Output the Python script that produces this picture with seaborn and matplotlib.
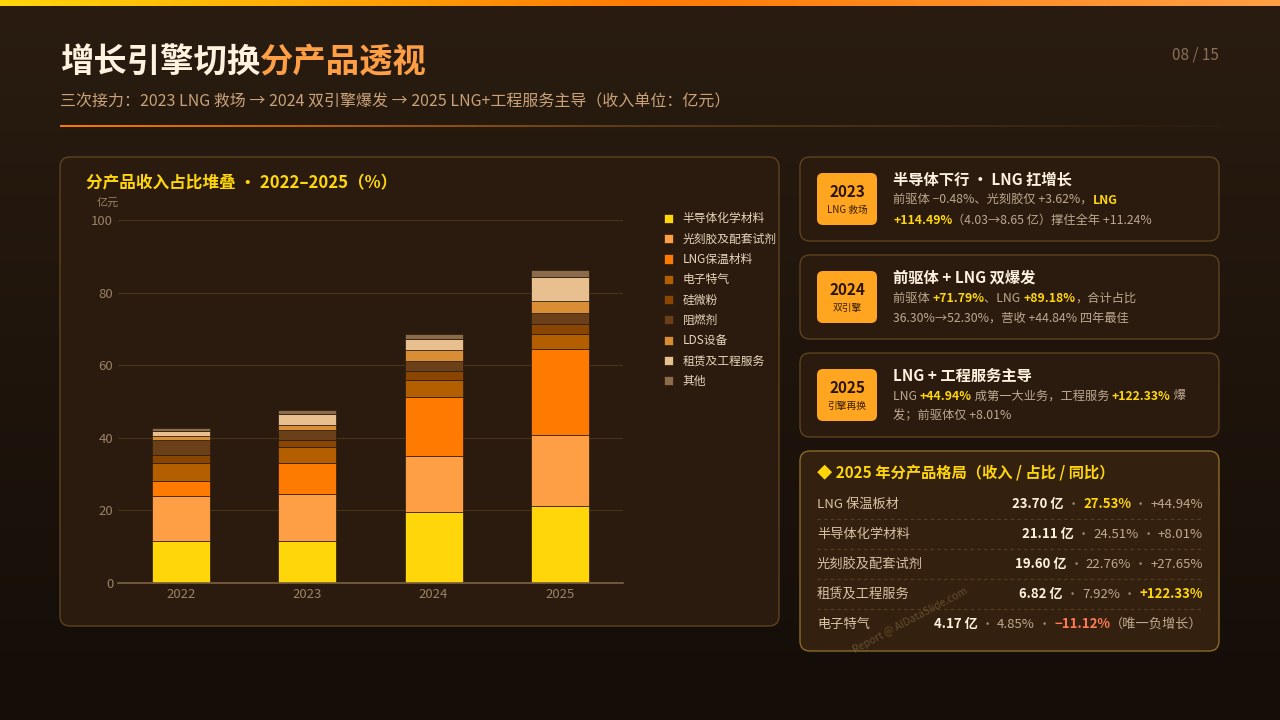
import numpy as np
import pandas as pd
import seaborn as sns
import matplotlib.pyplot as plt
from matplotlib.patches import FancyBboxPatch

years = ['2022', '2023', '2024', '2025']
products = ['半导体化学材料', '光刻胶及配套试剂', 'LNG保温材料', '电子特气', '硅微粉',
            '阻燃剂', 'LDS设备', '租赁及工程服务', '其他']
semi = [11.5, 11.5, 19.6, 21.11]
photo = [12.6, 13.0, 15.4, 19.60]
lng = [4.03, 8.65, 16.3, 23.70]
gas = [4.8, 4.4, 4.7, 4.17]
silica = [2.3, 1.9, 2.3, 2.9]
flame = [4.1, 2.7, 2.8, 2.9]
lds = [1.1, 1.4, 3.1, 3.2]
lease = [1.5, 3.1, 3.0, 6.82]
other = [0.7, 1.0, 1.5, 1.9]
colors = ['#FFD60A', '#FF9F45', '#FF7A00', '#B35F00', '#8A4500',
          '#6B3F17', '#D98E36', '#E8C090', '#8B6B4A']

sns.set_theme(style='dark')
plt.rcParams['font.family'] = ['Noto Sans CJK SC', 'DejaVu Sans']

W, H = 1280, 720
fig = plt.figure(figsize=(12.8, 7.2), dpi=100)
fig.patch.set_facecolor('#1E140C')
bg = fig.add_axes([0, 0, 1, 1])
bg.axis('off')
cm = plt.matplotlib.colors.LinearSegmentedColormap.from_list
grad = np.linspace(0, 1, 256).reshape(1, -1)
bg.imshow(np.linspace(0, 1, 256).reshape(-1, 1), extent=[0, W, H, 0], aspect='auto',
          cmap=cm('b', ['#2A1C10', '#140D08']), zorder=0)
bg.imshow(grad, extent=[0, W, 6, 0], aspect='auto',
          cmap=cm('t', ['#FFD60A', '#FF7A00', '#FF9F45']), zorder=1)
bg.imshow(grad, extent=[60, 1219, 127, 125], aspect='auto',
          cmap=cm('l', ['#FF7A00', '#5A3A18', '#2A1C10']), zorder=1)
bg.set_xlim(0, W)
bg.set_ylim(H, 0)

renderer = fig.canvas.get_renderer()


def rich(x, y, parts, size, ha='left'):
    # parts: list of (text, color, bold)
    seq = parts if ha == 'left' else parts[::-1]
    for txt, col, bold in seq:
        t = bg.text(x, y, txt, color=col, fontsize=size, fontweight='bold' if bold else 'normal',
                    ha=ha, va='center', zorder=5)
        bb = t.get_window_extent(renderer=renderer)
        x = x + bb.width if ha == 'left' else x - bb.width


def panel(x0, y0, x1, y1, fc='#2A1B0E', ec='#5E4220'):
    bg.add_patch(FancyBboxPatch((x0, y0), x1 - x0, y1 - y0, boxstyle='round,pad=0,rounding_size=10',
                                fc=fc, ec=ec, lw=1, zorder=2))


rich(60, 63, [('增长引擎切换', '#FFF3E0', True), ('分产品透视', '#FF9F45', True)], 24)
bg.text(60, 102, '三次接力：2023 LNG 救场 → 2024 双引擎爆发 → 2025 LNG+工程服务主导（收入单位：亿元）',
        color='#C9A27A', fontsize=11.5, va='center')
bg.text(1219, 55, '08 / 15', color='#8A7058', fontsize=11, ha='right', va='center')

# chart panel
panel(60, 157, 779, 626)
bg.text(86, 183, '分产品收入占比堆叠 · 2022–2025（%）', color='#FFD60A', fontsize=12,
        fontweight='bold', va='center')

ax = fig.add_axes([118 / W, 1 - 583 / H, (623 - 118) / W, (583 - 220) / H])
df = pd.DataFrame({'year': years, '半导体化学材料': semi, '光刻胶及配套试剂': photo, 'LNG保温材料': lng,
                   '电子特气': gas, '硅微粉': silica, '阻燃剂': flame, 'LDS设备': lds,
                   '租赁及工程服务': lease, '其他': other})
bottom = np.zeros(len(years))
for p, c in zip(products, colors):
    sns.barplot(x=df['year'], y=df[p], bottom=bottom, color=c, ax=ax, width=0.46, saturation=1,
                label=p, edgecolor='#2A1B0E', linewidth=0.5)
    bottom += df[p].values
ax.set_facecolor('none')
ax.set_ylim(0, 100)
ax.set_yticks([0, 20, 40, 60, 80, 100])
ax.set_xlabel('')
ax.set_ylabel('')
ax.grid(axis='y', color='#4A3418', lw=0.8)
ax.set_axisbelow(True)
for s in ['top', 'right', 'left']:
    ax.spines[s].set_visible(False)
ax.spines['bottom'].set_color('#7A6040')
ax.tick_params(colors='#9C8266', labelsize=9.5, length=0)
ax.text(-0.02, 1.04, '亿元', transform=ax.transAxes, color='#9C8266', fontsize=8, ha='center')
ax.legend(loc='upper left', bbox_to_anchor=(1.06, 1.05), frameon=False, fontsize=8.5,
          handlelength=0.8, handleheight=0.8, labelspacing=0.62, labelcolor='#E8D5BC')

# cards
cards = [
    (157, '2023', 'LNG 救场', '半导体下行 · LNG 扛增长',
     [[('前驱体 −0.48%、光刻胶仅 +3.62%，', '#BFA890', False), ('LNG', '#FFD60A', True)],
      [('+114.49%', '#FFD60A', True), ('（4.03→8.65 亿）撑住全年 +11.24%', '#BFA890', False)]]),
    (255, '2024', '双引擎', '前驱体 + LNG 双爆发',
     [[('前驱体 ', '#BFA890', False), ('+71.79%', '#FFD60A', True), ('、LNG ', '#BFA890', False),
       ('+89.18%', '#FFD60A', True), ('，合计占比', '#BFA890', False)],
      [('36.30%→52.30%，营收 +44.84% 四年最佳', '#BFA890', False)]]),
    (353, '2025', '引擎再换', 'LNG + 工程服务主导',
     [[('LNG ', '#BFA890', False), ('+44.94%', '#FFD60A', True), (' 成第一大业务，工程服务 ', '#BFA890', False),
       ('+122.33%', '#FFD60A', True), (' 爆', '#BFA890', False)],
      [('发；前驱体仅 +8.01%', '#BFA890', False)]]),
]
for y0, yr, tag, title, lines in cards:
    panel(800, y0, 1219, y0 + 84)
    bg.add_patch(FancyBboxPatch((817, y0 + 16), 60, 52, boxstyle='round,pad=0,rounding_size=6',
                                fc='#FFA51F', ec='none', zorder=3))
    bg.text(847, y0 + 35, yr, color='#2A1400', fontsize=11, fontweight='bold', ha='center', va='center', zorder=5)
    bg.text(847, y0 + 53, tag, color='#3A2000', fontsize=7, ha='center', va='center', zorder=5)
    bg.text(893, y0 + 23, title, color='#FFF3E0', fontsize=11, fontweight='bold', va='center', zorder=5)
    for i, ln in enumerate(lines):
        rich(893, y0 + 43 + 20 * i, ln, 8.8)

# table panel
panel(800, 451, 1219, 651, fc='#33200E', ec='#8A6A2A')
bg.text(817, 472, '◆ 2025 年分产品格局（收入 / 占比 / 同比）', color='#FFD60A', fontsize=11,
        fontweight='bold', va='center')
names = ['LNG 保温板材', '半导体化学材料', '光刻胶及配套试剂', '租赁及工程服务', '电子特气']
rev = ['23.70', '21.11', '19.60', '6.82', '4.17']
share = ['27.53%', '24.51%', '22.76%', '7.92%', '4.85%']
yoy = ['+44.94%', '+8.01%', '+27.65%', '+122.33%', '−11.12%']
for i in range(5):
    y = 504 + 30 * i
    bg.text(817, y, names[i], color='#D8C2A6', fontsize=9.5, va='center')
    sc = '#FFD60A' if i == 0 else '#BFA890'
    yc = {3: '#FFD60A', 4: '#FF7A55'}.get(i, '#BFA890')
    parts = [(rev[i] + ' 亿', '#FFF3E0', True), (' · ', '#9C8266', False), (share[i], sc, i == 0),
             (' · ', '#9C8266', False), (yoy[i], yc, i in (3, 4))]
    if i == 4:
        parts.append(('（唯一负增长）', '#BFA890', False))
    rich(1203, y, parts, 9.5, ha='right')
    if i < 4:
        bg.plot([817, 1203], [y + 15, y + 15], ls=(0, (3, 3)), color='#5A4020', lw=0.8, zorder=4)
bg.text(910, 620, 'Report @ AIDataSlide.com', color='#7A6040', fontsize=7.5, rotation=28,
        ha='center', va='center', alpha=0.7, zorder=6)

fig.savefig('out.png', dpi=100, facecolor=fig.get_facecolor())
